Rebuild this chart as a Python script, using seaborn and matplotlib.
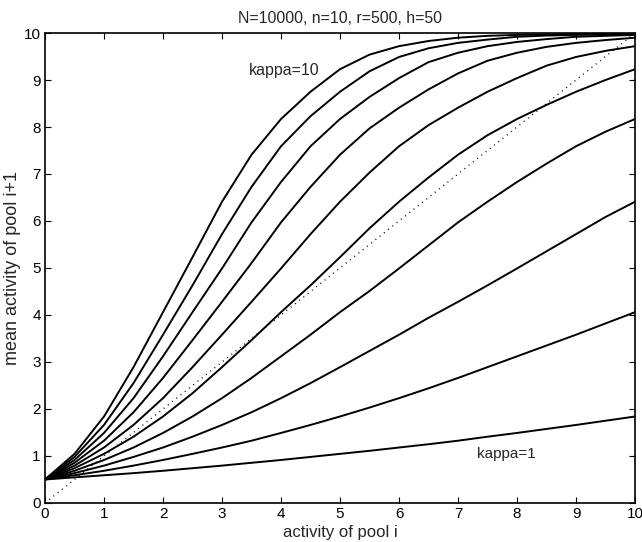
import numpy as np
import pandas as pd
import matplotlib
matplotlib.use("Agg")
import matplotlib.pyplot as plt
import seaborn as sns

# activity of pool i (x grid)
x_vals = [0, 0.5, 1, 1.5, 2, 2.5, 3, 3.5, 4, 4.5, 5, 5.5, 6, 6.5, 7, 7.5, 8, 8.5, 9, 9.5, 10]

# mean activity of pool i+1 for kappa = 1 .. 10
k1 = [0.50, 0.545, 0.59, 0.635, 0.685, 0.74, 0.795, 0.855, 0.915, 0.98, 1.045, 1.11, 1.18, 1.25, 1.325, 1.41, 1.49, 1.575, 1.66, 1.75, 1.84]
k2 = [0.50, 0.59, 0.685, 0.795, 0.915, 1.045, 1.18, 1.325, 1.49, 1.66, 1.84, 2.03, 2.23, 2.44, 2.66, 2.89, 3.12, 3.35, 3.58, 3.82, 4.06]
k3 = [0.50, 0.635, 0.795, 0.98, 1.18, 1.41, 1.66, 1.93, 2.23, 2.55, 2.89, 3.235, 3.58, 3.94, 4.28, 4.63, 4.99, 5.355, 5.72, 6.085, 6.41]
k4 = [0.50, 0.685, 0.915, 1.18, 1.49, 1.84, 2.23, 2.66, 3.12, 3.58, 4.06, 4.51, 4.99, 5.48, 5.97, 6.41, 6.83, 7.22, 7.59, 7.90, 8.17]
k5 = [0.50, 0.74, 1.045, 1.41, 1.84, 2.335, 2.89, 3.465, 4.06, 4.63, 5.23, 5.845, 6.41, 6.925, 7.41, 7.825, 8.17, 8.47, 8.75, 9.00, 9.23]
k6 = [0.50, 0.795, 1.18, 1.66, 2.23, 2.89, 3.58, 4.28, 4.99, 5.72, 6.41, 7.03, 7.59, 8.04, 8.41, 8.75, 9.04, 9.305, 9.49, 9.62, 9.72]
k7 = [0.50, 0.855, 1.325, 1.93, 2.66, 3.465, 4.28, 5.105, 5.97, 6.725, 7.41, 7.97, 8.41, 8.80, 9.14, 9.41, 9.58, 9.705, 9.79, 9.85, 9.90]
k8 = [0.50, 0.915, 1.49, 2.23, 3.12, 4.06, 4.99, 5.97, 6.83, 7.59, 8.17, 8.64, 9.04, 9.38, 9.58, 9.72, 9.81, 9.87, 9.92, 9.94, 9.96]
k9 = [0.50, 0.98, 1.66, 2.55, 3.58, 4.63, 5.72, 6.725, 7.59, 8.23, 8.75, 9.185, 9.49, 9.675, 9.79, 9.86, 9.92, 9.945, 9.96, 9.97, 9.98]
k10 = [0.50, 1.045, 1.84, 2.89, 4.06, 5.23, 6.41, 7.41, 8.17, 8.75, 9.23, 9.54, 9.72, 9.83, 9.90, 9.94, 9.96, 9.97, 9.98, 9.985, 9.99]

kappas = [1, 2, 3, 4, 5, 6, 7, 8, 9, 10]
series = [k1, k2, k3, k4, k5, k6, k7, k8, k9, k10]

# identity line y = x
diag_x = [0, 10]
diag_y = [0, 10]

x_ticks = [0, 1, 2, 3, 4, 5, 6, 7, 8, 9, 10]
y_ticks = [0, 1, 2, 3, 4, 5, 6, 7, 8, 9, 10]

rows = []
for k, ys in zip(kappas, series):
    for xv, yv in zip(x_vals, ys):
        rows.append({"x": xv, "y": yv, "kappa": k})
df = pd.DataFrame(rows)
diag_df = pd.DataFrame({"x": diag_x, "y": diag_y})

sns.set_theme(style="ticks")
plt.rcParams["font.family"] = ["Liberation Sans", "DejaVu Sans"]

fig = plt.figure(figsize=(6.42, 5.42), dpi=100)
ax = fig.add_axes([0.0701, 0.0720, 0.9190, 0.8671])

sns.lineplot(data=df, x="x", y="y", units="kappa", estimator=None,
             color="black", linewidth=1.4, ax=ax, legend=False)
sns.lineplot(data=diag_df, x="x", y="y", color="black", linewidth=1.0,
             linestyle=(0, (0.7, 3.2)), ax=ax, legend=False)

ax.set_xlim(0, 10)
ax.set_ylim(0, 10)
ax.set_xticks(x_ticks)
ax.set_yticks(y_ticks)
ax.set_xticklabels([str(t) for t in x_ticks])
ax.set_yticklabels([str(t) for t in y_ticks])
ax.tick_params(direction="in", top=True, right=True, length=4, width=0.8,
               labelsize=11, colors="black", pad=3)
for s in ax.spines.values():
    s.set_linewidth(1.2)
    s.set_color("black")

ax.set_xlabel("activity of pool i", fontsize=12, labelpad=3)
ax.set_ylabel("mean activity of pool i+1", fontsize=13, labelpad=2)
ax.set_title("N=10000, n=10, r=500, h=50", fontsize=11.4, pad=7)

ax.text(3.45, 9.21, "kappa=10", fontsize=11.4, ha="left", va="center")
ax.text(7.32, 1.04, "kappa=1", fontsize=11, ha="left", va="center")

fig.savefig("out.png", dpi=100, facecolor="white")
